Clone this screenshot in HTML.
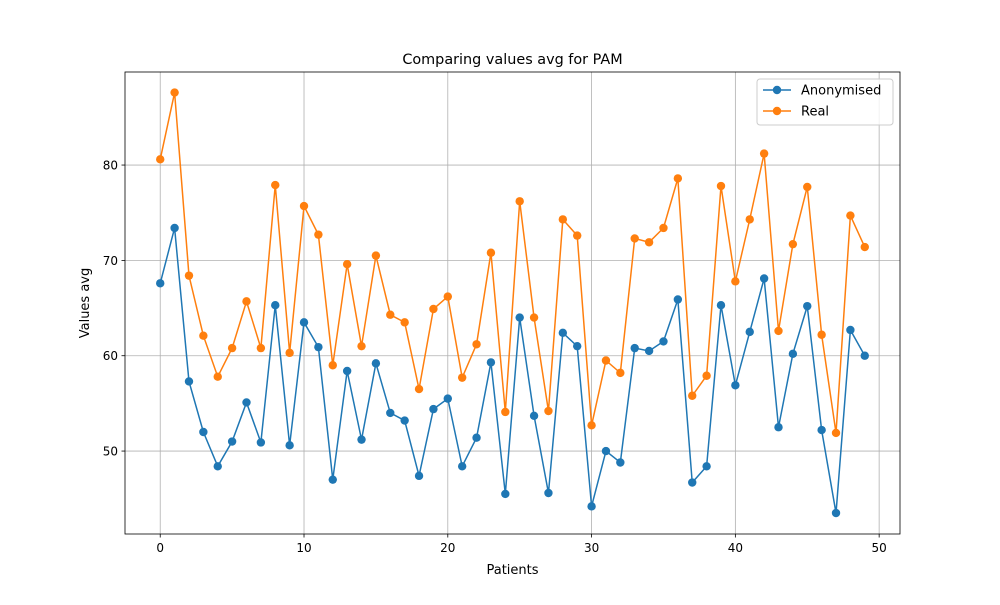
<!DOCTYPE html>
<html><head><meta charset="utf-8"><style>
html,body{margin:0;padding:0;background:#fff;}
svg text{font-family:"DejaVu Sans","Liberation Sans",sans-serif;fill:#000;}
</style></head><body>
<svg id="chart" width="1000" height="600" xmlns="http://www.w3.org/2000/svg"></svg>
<script>
const patients = Array.from({length:50},(_,i)=>i);
const anonymised = [67.6,73.4,57.3,52.0,48.4,51.0,55.1,50.9,65.3,50.6,63.5,60.9,47.0,58.4,51.2,59.2,54.0,53.2,47.4,54.4,55.5,48.4,51.4,59.3,45.5,64.0,53.7,45.6,62.4,61.0,44.2,50.0,48.8,60.8,60.5,61.5,65.9,46.7,48.4,65.3,56.9,62.5,68.1,52.5,60.2,65.2,52.2,43.5,62.7,60.0];
const real = [80.6,87.6,68.4,62.1,57.8,60.8,65.7,60.8,77.9,60.3,75.7,72.7,59.0,69.6,61.0,70.5,64.3,63.5,56.5,64.9,66.2,57.7,61.2,70.8,54.1,76.2,64.0,54.2,74.3,72.6,52.7,59.5,58.2,72.3,71.9,73.4,78.6,55.8,57.9,77.8,67.8,74.3,81.2,62.6,71.7,77.7,62.2,51.9,74.7,71.4];
const xTicks = [0,10,20,30,40,50];
const yTicks = [50,60,70,80];

const NS="http://www.w3.org/2000/svg";
const svg=document.getElementById('chart');
const L=125,R=900,T=72,B=534;
const xMin=-2.45,xMax=51.45,yMin=41.3,yMax=89.76;
const xs=v=>L+(v-xMin)/(xMax-xMin)*(R-L);
const ys=v=>B-(v-yMin)/(yMax-yMin)*(B-T);
function mk(tag,attrs,parent){const e=document.createElementNS(NS,tag);for(const k in attrs)e.setAttribute(k,attrs[k]);(parent||svg).appendChild(e);return e;}

const grid=mk('g',{});


xTicks.forEach(t=>{const l=mk('line',{x1:xs(t),x2:xs(t),y1:T,y2:B,stroke:'#b0b0b0','stroke-width':0.8},grid);

});
yTicks.forEach(t=>{const l=mk('line',{x1:L,x2:R,y1:ys(t),y2:ys(t),stroke:'#b0b0b0','stroke-width':0.8},grid);

});

const xAxis=mk('g',{});


xTicks.forEach(t=>{mk('line',{x1:xs(t),x2:xs(t),y1:B,y2:B+3.5,stroke:'#000','stroke-width':0.8},xAxis);
const tx=mk('text',{x:xs(t),y:B+18,'font-size':12,'text-anchor':'middle'},xAxis);tx.textContent=t;

});
const yAxis=mk('g',{});


yTicks.forEach(t=>{mk('line',{x1:L-3.5,x2:L,y1:ys(t),y2:ys(t),stroke:'#000','stroke-width':0.8},yAxis);
const tx=mk('text',{x:L-7,y:ys(t)+4.5,'font-size':12,'text-anchor':'end'},yAxis);tx.textContent=t;

});

function series(data,color,name){
  const g=mk('g',{});
  
  
  mk('polyline',{points:data.map((v,i)=>xs(patients[i])+','+ys(v)).join(' '),fill:'none',stroke:color,'stroke-width':1.5},g);
  data.forEach((v,i)=>{const c=mk('circle',{cx:xs(patients[i]),cy:ys(v),r:4.2,fill:color},g);
  
  });
}
series(anonymised,'#1f77b4','anonymised-series');
series(real,'#ff7f0e','real-series');

const frame=mk('rect',{x:L,y:T,width:R-L,height:B-T,fill:'none',stroke:'#000','stroke-width':0.8});



const title=mk('text',{x:(L+R)/2,y:T-8,'font-size':14.4,'text-anchor':'middle'});title.textContent='Comparing values avg for PAM';


const xl=mk('text',{x:(L+R)/2,y:574,'font-size':13,'text-anchor':'middle'});xl.textContent='Patients';


const yl=mk('text',{x:0,y:0,'font-size':13,'text-anchor':'middle',transform:'translate(89,'+((T+B)/2)+') rotate(-90)'});yl.textContent='Values avg';



const leg=mk('g',{});


mk('rect',{x:757,y:79,width:136,height:46,rx:3,fill:'#fff','fill-opacity':0.8,stroke:'#ccc','stroke-width':1},leg);
[['Anonymised','#1f77b4',90],['Real','#ff7f0e',111]].forEach(([n,c,y])=>{
  const e=mk('g',{},leg);
  
  
  mk('line',{x1:763,x2:791,y1:y,y2:y,stroke:c,'stroke-width':1.5},e);
  mk('circle',{cx:777,cy:y,r:4.2,fill:c},e);
  const t=mk('text',{x:801,y:y+4.5,'font-size':13},e);t.textContent=n;
});
</script>
</body></html>
